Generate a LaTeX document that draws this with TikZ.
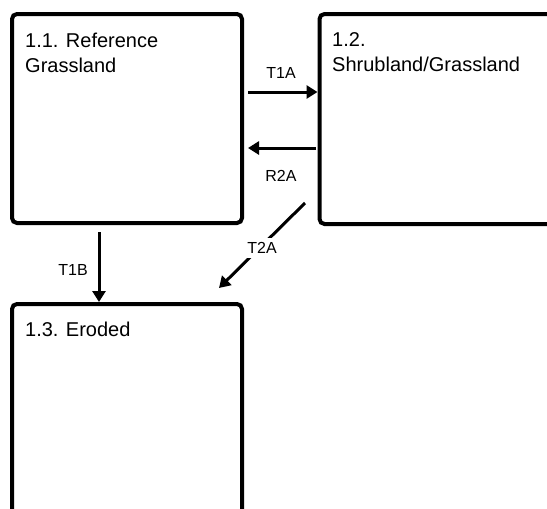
\documentclass[tikz,border=0pt]{standalone}
\usepackage{fontspec}
\setmainfont{Liberation Sans}
\usetikzlibrary{arrows.meta,calc}
\begin{document}
\begin{tikzpicture}[x=1pt,y=-1pt,
  statebox/.style={draw=black,line width=4pt,rounded corners=5pt,rectangle,inner sep=0pt,fill=white},
  boxtext/.style={anchor=north west,inner sep=0pt,align=left,font=\fontsize{20}{25}\selectfont},
  arr/.style={line width=3pt,-{Triangle[length=11pt,width=13pt]}},
  lbl/.style={font=\fontsize{16}{19}\selectfont,inner sep=1pt}]
\useasboundingbox (0,0) rectangle (547,509);
\begin{scope}
\clip (0,0) rectangle (547,509);
\node[statebox,minimum width=230pt,minimum height=209pt] (b1) at (127,118.5) {};
\node[statebox,minimum width=251pt,minimum height=210pt] (b2) at (445,119) {};
\node[statebox,minimum width=230pt,minimum height=226pt] (b3) at (127,417) {};
\end{scope}
\node[boxtext] (t1) at (25,32.5) {1.1. Reference\\Grassland};
\node[boxtext] (t2) at (332,32.5) {1.2.\\Shrubland/Grassland};
\node[boxtext] (t3) at (25,321.5) {1.3. Eroded};
% connector end points
\coordinate (a1s) at (248,92);
\coordinate (a2s) at (316,148);
\coordinate (a3s) at (305,203);
\coordinate (a3e) at (219,288);
\coordinate (a4s) at (99,232);
\draw[arr] (a1s) -- (a1s -| b2.west);
\draw[arr] (a2s) -- (a2s -| 248,0);
\draw[arr] (a3s) -- (a3e);
\draw[arr] (a4s) -- (a4s |- b3.north);
\node[lbl,fill=white,inner sep=4pt] (l3) at (262,248) {T2A};
\node[lbl] (l1) at (281,73) {T1A};
\node[lbl] (l2) at (281,176) {R2A};
\node[lbl] (l4) at (73,270) {T1B};
\end{tikzpicture}
\end{document}
